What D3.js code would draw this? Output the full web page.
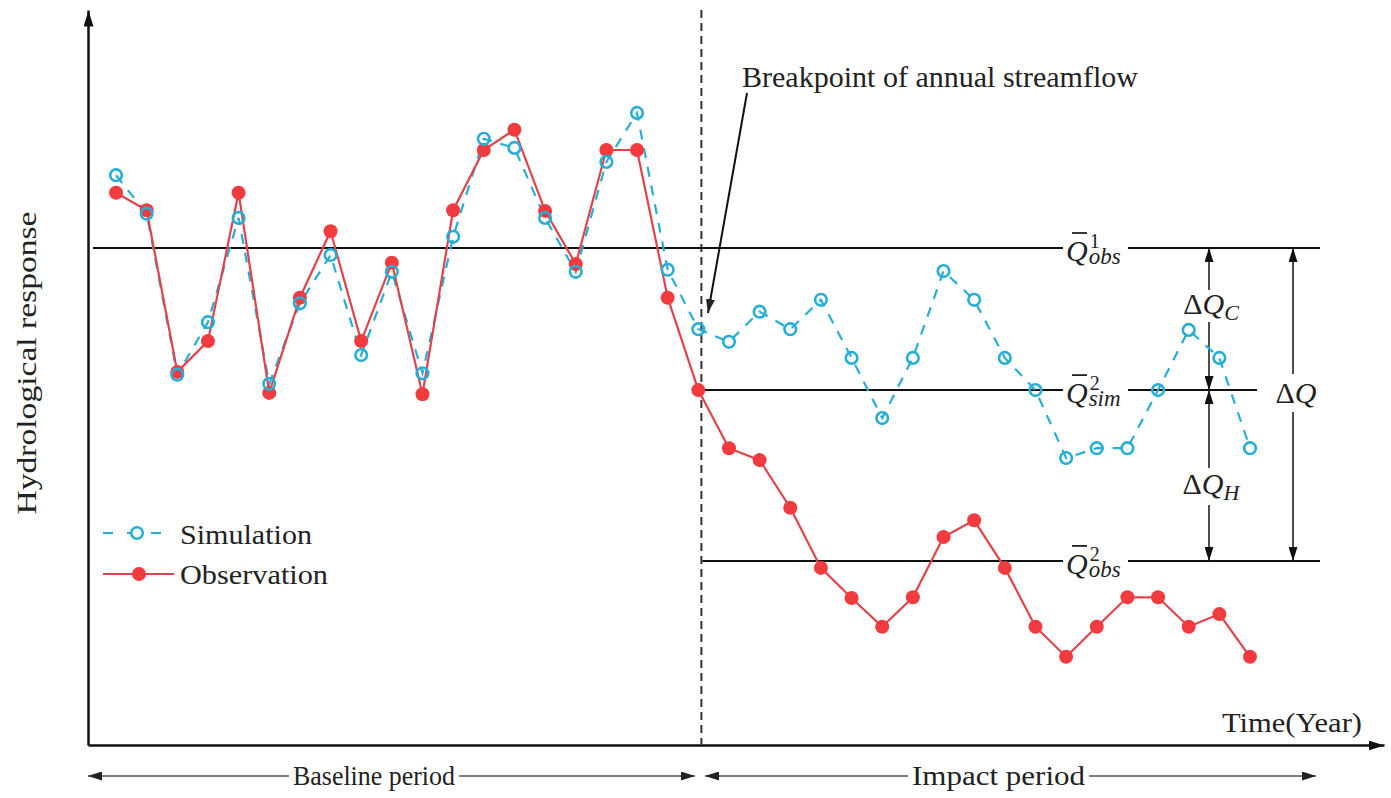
<!DOCTYPE html>
<html>
<head>
<meta charset="utf-8">
<script src="https://cdn.jsdelivr.net/npm/d3@7"></script>
<style>
  html, body { margin: 0; padding: 0; background: #fff; }
  text { font-family: "Liberation Serif", "DejaVu Serif", serif; fill: #222; }
</style>
</head>
<body>
<div id="chart"></div>
<script>
// data (arbitrary response units, years as index)
const years = d3.range(38);
const observation = [78.9, 76.4, 53.3, 57.7, 78.9, 50.3, 63.9, 73.4, 57.7, 68.9,
                     50.1, 76.4, 85.0, 87.9, 76.3, 68.7, 85.0, 85.0, 63.9, 50.7,
                     42.4, 40.7, 33.9, 25.3, 21.0, 16.9, 21.1, 29.7, 32.1, 25.3,
                     16.9, 12.6, 16.9, 21.1, 21.1, 16.9, 18.7, 12.6];
const simulation  = [81.4, 75.9, 52.9, 60.4, 75.3, 51.6, 63.1, 70.0, 55.7, 67.6,
                     53.1, 72.6, 86.6, 85.3, 75.3, 67.6, 83.3, 90.3, 67.9, 59.4,
                     57.6, 61.9, 59.4, 63.6, 55.3, 46.7, 55.3, 67.7, 63.6, 55.3,
                     50.7, 41.0, 42.4, 42.4, 50.7, 59.3, 55.3, 42.4];
const breakpoint = 19.1;
const meanObsBefore = 71.0, meanSimAfter = 50.7, meanObsAfter = 26.3;

const WIDTH = 1391, HEIGHT = 798;
const RED = "#f23b3f", RED_LINE = "#e0444a", CYAN = "#27aed6";

const x = d3.scaleLinear().domain([0, 37]).range([116, 1250]);
const y = d3.scaleLinear().domain([0, 100]).range([745, 45]);

const svg = d3.select("#chart").append("svg")
    .attr("width", WIDTH)
    .attr("height", HEIGHT);

// arrowhead markers
const defs = svg.append("defs");
function marker(id, w, h, color) {
    defs.append("marker")
        .attr("id", id)
        .attr("markerUnits", "userSpaceOnUse")
        .attr("viewBox", `0 0 ${w} ${h}`)
        .attr("refX", w).attr("refY", h / 2)
        .attr("markerWidth", w).attr("markerHeight", h)
        .attr("orient", "auto-start-reverse")
      .append("path")
        .attr("d", `M0,0L${w},${h / 2}L0,${h}Z`)
        .attr("fill", color);
}
marker("axArrow", 16, 10, "#111");
marker("dArrow", 14, 9, "#111");
marker("pArrow", 14, 9, "#222");

// axes (no ticks, just arrowed lines)
const xa = x.copy().domain([x.invert(88), x.invert(1384)]).range([88, 1384]);
const ya = y.copy().domain([0, y.invert(10)]).range([745, 10]);

svg.append("g")
    .attr("transform", `translate(0,${y(0)})`)
    .call(d3.axisBottom(xa).tickValues([]).tickSizeOuter(0))
    .select(".domain")
    .attr("stroke", "#111").attr("stroke-width", 2.5)
    .attr("marker-end", "url(#axArrow)");

svg.append("g")
    .attr("transform", `translate(${xa(xa.domain()[0])},0)`)
    .call(d3.axisLeft(ya).tickValues([]).tickSizeOuter(0))
    .select(".domain")
    .attr("stroke", "#111").attr("stroke-width", 2.5)
    .attr("marker-end", "url(#axArrow)");

svg.append("text")
    .attr("x", 1222).attr("y", 732)
    .attr("font-size", 28)
    .attr("textLength", 140).attr("lengthAdjust", "spacingAndGlyphs")
    .text("Time(Year)");

svg.append("text")
    .attr("transform", "translate(36,363) rotate(-90)")
    .attr("text-anchor", "middle")
    .attr("font-size", 28)
    .attr("textLength", 303).attr("lengthAdjust", "spacingAndGlyphs")
    .text("Hydrological response");

// breakpoint dashed line
svg.append("line")
    .attr("x1", x(breakpoint)).attr("x2", x(breakpoint))
    .attr("y1", 10).attr("y2", y(0))
    .attr("stroke", "#333").attr("stroke-width", 2)
    .attr("stroke-dasharray", "8,5");

// mean level lines, with a gap for the labels
const gapL = 1063, gapR = 1128;
const levels = [
    { v: meanObsBefore, x0: 93,               x1: 1320, sup: "1", sub: "obs" },
    { v: meanSimAfter,  x0: x(breakpoint) - 3, x1: 1257, sup: "2", sub: "sim" },
    { v: meanObsAfter,  x0: x(breakpoint) + 1, x1: 1320, sup: "2", sub: "obs" }
];
levels.forEach(l => {
    [[l.x0, gapL], [gapR, l.x1]].forEach(s => {
        svg.append("line")
            .attr("x1", s[0]).attr("x2", s[1])
            .attr("y1", y(l.v)).attr("y2", y(l.v))
            .attr("stroke", "#111").attr("stroke-width", 2);
    });
    const g = svg.append("g").attr("transform", `translate(${gapL + 3},${y(l.v) + 13})`);
    g.append("line").attr("x1", 6).attr("x2", 21).attr("y1", -28).attr("y2", -28)
        .attr("stroke", "#222").attr("stroke-width", 1.8);
    const t = g.append("text").attr("font-size", 30);
    t.append("tspan").attr("font-style", "italic").text("Q");
    t.append("tspan").attr("dx", 2).attr("dy", -13).attr("font-size", 20).text(l.sup);
    t.append("tspan").attr("dx", -11).attr("dy", 16).attr("font-size", 23)
        .attr("font-style", "italic").text(l.sub);
});

// difference arrows
function dArrow(xp, v0, v1, gap0, gap1) {
    const segs = gap0 == null ? [[y(v0), y(v1)]] : [[y(v0), gap0], [gap1, y(v1)]];
    segs.forEach((s, i) => {
        const ln = svg.append("line")
            .attr("x1", xp).attr("x2", xp)
            .attr("y1", s[0]).attr("y2", s[1])
            .attr("stroke", "#222").attr("stroke-width", 1.6);
        if (i === 0) ln.attr("marker-start", "url(#dArrow)");
        if (i === segs.length - 1) ln.attr("marker-end", "url(#dArrow)");
    });
}
dArrow(1209, meanObsBefore, meanSimAfter, 290, 322);
dArrow(1209, meanSimAfter, meanObsAfter, 468, 505);
dArrow(1293, meanObsBefore, meanObsAfter, 374, 412);

function deltaLabel(cx, by, sub) {
    const t = svg.append("text").attr("x", cx).attr("y", by)
        .attr("text-anchor", "middle").attr("font-size", 30);
    t.append("tspan").text("Δ");
    t.append("tspan").attr("font-style", "italic").text("Q");
    if (sub) t.append("tspan").attr("font-style", "italic").attr("font-size", 22)
        .attr("dy", 6).text(sub);
}
deltaLabel(1211, 314, "C");
deltaLabel(1211, 494, "H");
deltaLabel(1296, 403, null);

// breakpoint annotation
svg.append("text")
    .attr("x", 742).attr("y", 87)
    .attr("font-size", 29)
    .attr("textLength", 396).attr("lengthAdjust", "spacingAndGlyphs")
    .text("Breakpoint of annual streamflow");
svg.append("line")
    .attr("x1", 747).attr("y1", 93).attr("x2", 708).attr("y2", 313)
    .attr("stroke", "#111").attr("stroke-width", 2)
    .attr("marker-end", "url(#pArrow)");

// period arrows under the axis
const periods = [
    { label: "Baseline period", x0: 88,  x1: 695,  tx: 293, tw: 162 },
    { label: "Impact period",   x0: 705, x1: 1316, tx: 912, tw: 173 }
];
periods.forEach(p => {
    svg.append("line").attr("x1", p.tx - 4).attr("x2", p.x0)
        .attr("y1", 776).attr("y2", 776)
        .attr("stroke", "#555").attr("stroke-width", 1.5)
        .attr("marker-end", "url(#pArrow)");
    svg.append("line").attr("x1", p.tx + p.tw + 4).attr("x2", p.x1)
        .attr("y1", 776).attr("y2", 776)
        .attr("stroke", "#555").attr("stroke-width", 1.5)
        .attr("marker-end", "url(#pArrow)");
    svg.append("text").attr("x", p.tx).attr("y", 785)
        .attr("font-size", 28)
        .attr("textLength", p.tw).attr("lengthAdjust", "spacingAndGlyphs")
        .text(p.label);
});

// simulation series
const line = d3.line().x((d, i) => x(years[i])).y(d => y(d));
svg.append("path")
    .datum(simulation)
    .attr("d", line)
    .attr("fill", "none")
    .attr("stroke", CYAN).attr("stroke-width", 2.2)
    .attr("stroke-dasharray", "10,9");

// observation series
svg.append("path")
    .datum(observation)
    .attr("d", line)
    .attr("fill", "none")
    .attr("stroke", RED_LINE).attr("stroke-width", 2.2);

svg.append("g").selectAll("circle")
    .data(observation)
    .enter().append("circle")
    .attr("cx", (d, i) => x(years[i]))
    .attr("cy", d => y(d))
    .attr("r", 7)
    .attr("fill", RED);

svg.append("g").selectAll("circle")
    .data(simulation)
    .enter().append("circle")
    .attr("cx", (d, i) => x(years[i]))
    .attr("cy", d => y(d))
    .attr("r", 5.8)
    .attr("fill", "none")
    .attr("stroke", CYAN).attr("stroke-width", 2.6);

// legend
const leg = svg.append("g");
leg.append("line").attr("x1", 103).attr("x2", 172).attr("y1", 533).attr("y2", 533)
    .attr("stroke", CYAN).attr("stroke-width", 2.2).attr("stroke-dasharray", "10,14");
leg.append("circle").attr("cx", 137).attr("cy", 533).attr("r", 5.8)
    .attr("fill", "#fff").attr("stroke", CYAN).attr("stroke-width", 2.6);
leg.append("text").attr("x", 180).attr("y", 544).attr("font-size", 28)
    .attr("textLength", 132).attr("lengthAdjust", "spacingAndGlyphs").text("Simulation");
leg.append("line").attr("x1", 103).attr("x2", 174).attr("y1", 574).attr("y2", 574)
    .attr("stroke", RED_LINE).attr("stroke-width", 2.2);
leg.append("circle").attr("cx", 139).attr("cy", 574).attr("r", 7).attr("fill", RED);
leg.append("text").attr("x", 180).attr("y", 584).attr("font-size", 28)
    .attr("textLength", 148).attr("lengthAdjust", "spacingAndGlyphs").text("Observation");
</script>
</body>
</html>
